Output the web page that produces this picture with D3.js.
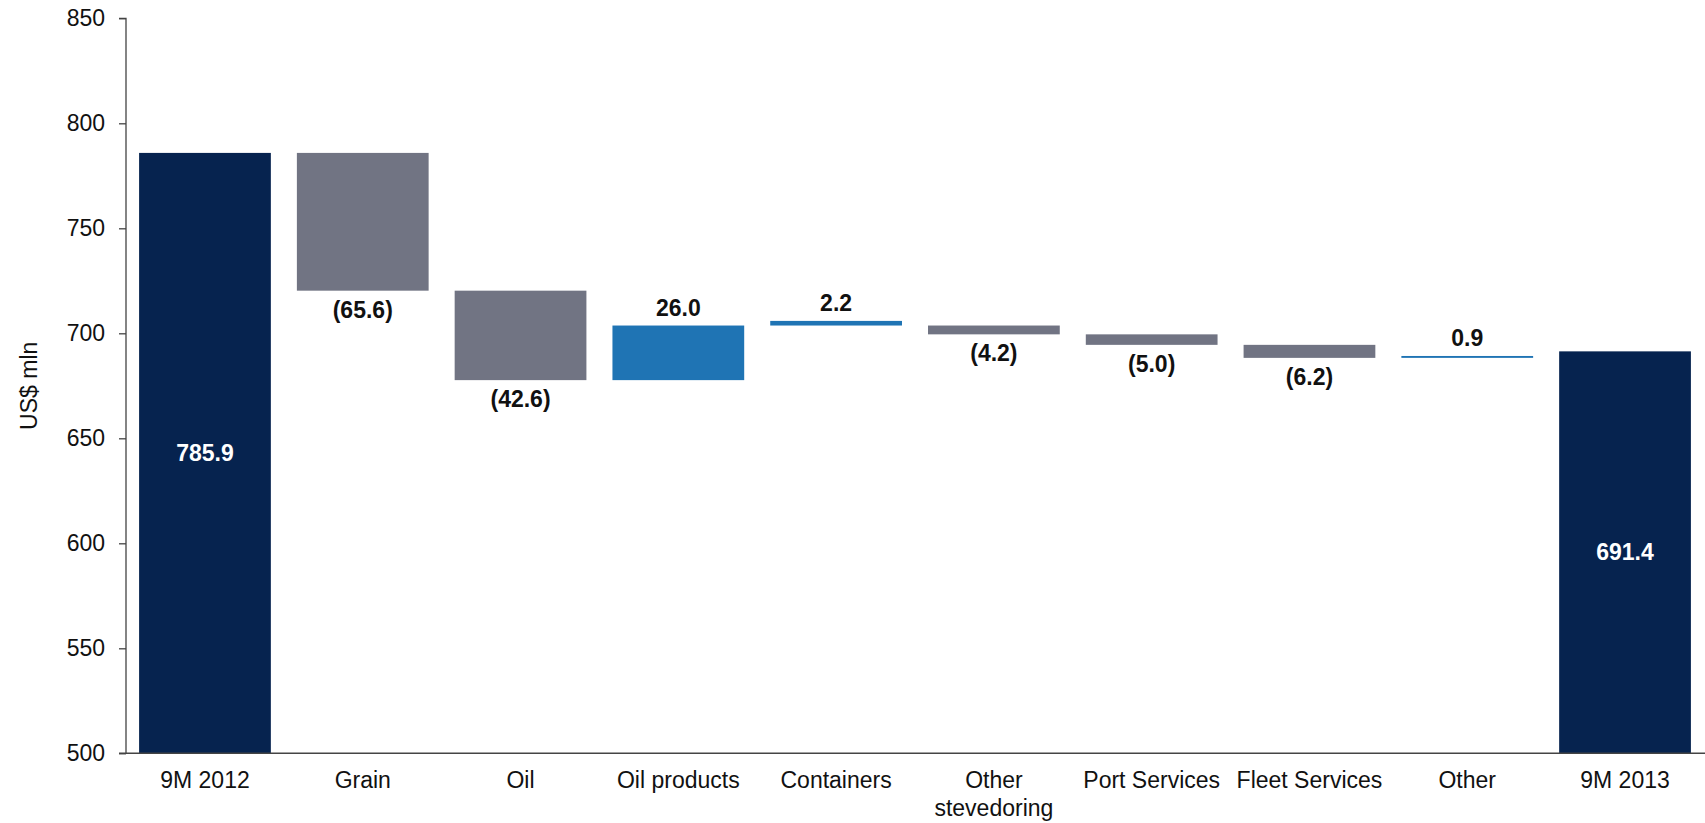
<!DOCTYPE html>
<html>
<head>
<meta charset="utf-8">
<script src="https://cdn.jsdelivr.net/npm/d3@7"></script>
<style>
  html, body { margin: 0; padding: 0; background: #fff; }
  svg { display: block; font-family: "Liberation Sans", Arial, sans-serif; }
</style>
</head>
<body>
<svg id="chart" width="1705" height="823"></svg>
<script>
const categories = ["9M 2012", "Grain", "Oil", "Oil products", "Containers", "Other\nstevedoring", "Port Services", "Fleet Services", "Other", "9M 2013"];
const changes = [785.9, -65.6, -42.6, 26.0, 2.2, -4.2, -5.0, -6.2, 0.9, 691.4];
// where each bar starts (totals start at the axis minimum)
const starts = [500, 785.9, 720.3, 677.7, 703.7, 703.7, 699.5, 694.5, 688.3, 500];
const kinds = ["total", "delta", "delta", "delta", "delta", "delta", "delta", "delta", "delta", "total"];
const yTicks = [500, 550, 600, 650, 700, 750, 800, 850];
const yTitle = "US$ mln";

const colors = { total: "#06234f", down: "#717483", up: "#1f74b4" };

const svg = d3.select("#chart");
const x = d3.scaleBand().domain(categories).range([126, 1704]).paddingInner(0.165).paddingOuter(0.083);
const y = d3.scaleLinear().domain([500, 850]).range([753.3, 18.3]);

const bars = categories.map((c, i) => {
  const v = changes[i];
  let lo, hi, kind;
  if (kinds[i] === "total") {
    lo = starts[i]; hi = v; kind = "total";
  } else {
    const s = starts[i], e = s + v;
    lo = Math.min(s, e); hi = Math.max(s, e);
    kind = v < 0 ? "down" : "up";
  }
  return { c, v, lo, hi, kind };
});

// bars
svg.append("g").selectAll("rect").data(bars).join("rect")
  .attr("x", d => x(d.c))
  .attr("width", x.bandwidth())
  .attr("y", d => y(d.hi))
  .attr("height", d => Math.max(1.5, y(d.lo) - y(d.hi)))
  .attr("fill", d => colors[d.kind]);

// labels
const fmt = d => d.kind === "down" ? "(" + Math.abs(d.v).toFixed(1) + ")" : d.v.toFixed(1);
svg.append("g").selectAll("text").data(bars).join("text")
  .attr("x", d => x(d.c) + x.bandwidth() / 2)
  .attr("y", d => {
    if (d.kind === "total") return (y(d.lo) + y(d.hi)) / 2 + 8;
    if (d.kind === "down") return y(d.lo) + 27;
    return y(d.hi) - 10;
  })
  .attr("text-anchor", "middle")
  .attr("font-size", 23)
  .attr("font-weight", "bold")
  .attr("fill", d => d.kind === "total" ? "#fff" : "#111")
  .text(fmt);

// y axis
const yAxis = svg.append("g").attr("transform", "translate(126,0)")
  .call(d3.axisLeft(y).tickValues(yTicks).tickSize(7).tickPadding(14).tickFormat(d3.format("d")));
yAxis.select(".domain").attr("stroke", "#444").attr("stroke-width", 1.3).attr("d", `M-7,${y(850)}H0V${y(500)}`);
yAxis.selectAll(".tick line").attr("stroke", "#444").attr("stroke-width", 1.3);
yAxis.selectAll(".tick text").attr("font-size", 23).attr("fill", "#111").attr("font-family", "Liberation Sans, Arial, sans-serif");

// x axis
const xAxis = svg.append("g").attr("transform", `translate(0,${y(500)})`)
  .call(d3.axisBottom(x).tickSize(0).tickPadding(0));
xAxis.select(".domain").attr("stroke", "#444").attr("stroke-width", 1.5).attr("d", `M119,0H1705`);
xAxis.selectAll(".tick text").remove();
xAxis.selectAll(".tick").each(function(d) {
  const t = d3.select(this).append("text")
    .attr("text-anchor", "middle").attr("font-size", 23).attr("fill", "#111")
    .attr("font-family", "Liberation Sans, Arial, sans-serif");
  d.split("\n").forEach((line, i) => {
    t.append("tspan").attr("x", 0).attr("y", 35 + i * 28).text(line);
  });
});

// y title
svg.append("text")
  .attr("transform", `translate(37,${(y(500) + y(850)) / 2}) rotate(-90)`)
  .attr("text-anchor", "middle")
  .attr("font-size", 23).attr("fill", "#111")
  .text(yTitle);
</script>
</body>
</html>
